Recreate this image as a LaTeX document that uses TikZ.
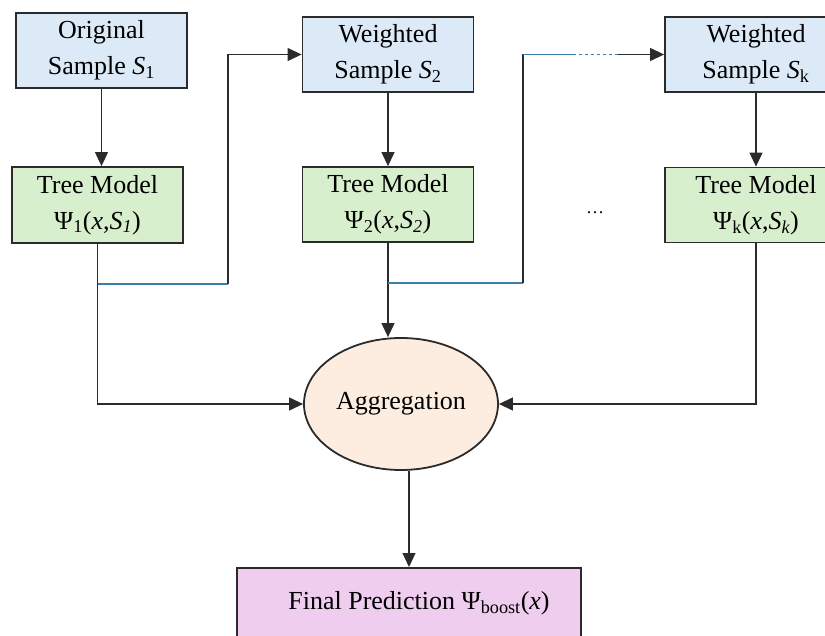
\documentclass[tikz,border=0pt]{standalone}
\usepackage{fontspec}
\setmainfont{Liberation Serif}
\usetikzlibrary{arrows.meta,shapes.geometric}

\definecolor{sampleBlue}{HTML}{DCE9F6}
\definecolor{treeGreen}{HTML}{D7EFCD}
\definecolor{aggPeach}{HTML}{FCEDE0}
\definecolor{finalPink}{HTML}{EECDEE}
\definecolor{edgeGray}{HTML}{2B2B2B}
\definecolor{linkBlue}{HTML}{3A7FA8}

\begin{document}
\begin{tikzpicture}[
    x=1pt, y=-1pt,
    font=\fontsize{26}{36}\selectfont,
    box/.style={draw=edgeGray, line width=1.8pt, align=center, inner sep=0pt, minimum height=75pt},
    sample/.style={box, fill=sampleBlue, minimum width=171pt},
    tree/.style={box, fill=treeGreen, minimum width=171pt},
    conn/.style={edgeGray, line width=1.1pt},
    arr/.style={conn, -{Triangle[length=14pt,width=13pt]}},
    link/.style={linkBlue, line width=1.1pt},
]

\useasboundingbox (0,0) rectangle (825,636);
\clip (0,0) rectangle (825,636);

% Samples (top row)
\node[sample] (s1) at (101.5,50.5) {Original\\Sample \textit{S}\textsubscript{1}};
\node[sample] (s2) at (388,54.5) {Weighted\\Sample \textit{S}\textsubscript{2}};
\node[sample, minimum width=182pt] (sk) at (756,54.5) {Weighted\\Sample \textit{S}\textsubscript{k}};

% Tree models (second row)
\node[tree, minimum height=76pt] (t1) at (97.5,205)
    {Tree Model\\Ψ\textsubscript{1}(\textit{x},\textit{S\textsubscript{1}})};
\node[tree] (t2) at (388,204.5)
    {Tree Model\\Ψ\textsubscript{2}(\textit{x},\textit{S\textsubscript{2}})};
\node[tree, minimum width=182pt] (tk) at (756,205)
    {Tree Model\\Ψ\textsubscript{k}(\textit{x},\textit{S\textsubscript{k}})};
\node[font=\fontsize{18}{20}\selectfont] (dots) at (595,213) {\dots};

% Aggregation and final output
\node[ellipse, draw=edgeGray, line width=1.8pt, fill=aggPeach,
    minimum width=194pt, minimum height=132pt, inner sep=0pt] (agg) at (401,404) {Aggregation};
\node[draw=edgeGray, line width=1.8pt, fill=finalPink, anchor=north,
    minimum width=344pt, inner sep=0pt, text height=42pt, text depth=60pt]
    (final) at (409,567) {\hspace*{20pt}Final Prediction Ψ\textsubscript{boost}(\textit{x})};

% Sample -> tree
\draw[arr] (s1.south) -- (s1.south |- t1.north);
\draw[arr] (s2.south) -- (t2.north);
\draw[arr] (sk.south) -- (tk.north);

% Trees -> aggregation
\draw[arr] (t1.south) |- (agg.west);
\draw[arr] (t2.south) -- (t2.south |- agg.north);
\draw[arr] (tk.south) |- (agg.east);
\draw[arr] (final.north |- agg.south) -- (final.north);

% Reweighting feedback
\coordinate (b1) at (t1.south |- 0,284);
\coordinate (c1) at (228,284);
\draw[link] (b1) -- (c1);
\draw[arr] (c1) |- (s2.west);

\coordinate (b2) at (t2.south |- 0,283);
\coordinate (c2) at (523,283);
\coordinate (c2top) at (c2 |- sk.west);
\draw[link] (b2) -- (c2);
\draw[conn] (c2) -- (c2top);
\draw[link] (c2top) -- ++(50,0) coordinate (gapL);
\draw[link, dash pattern=on 3pt off 3pt] (gapL) -- ++(45,0) coordinate (gapR);
\draw[arr] (gapR) -- (sk.west);

\end{tikzpicture}
\end{document}
